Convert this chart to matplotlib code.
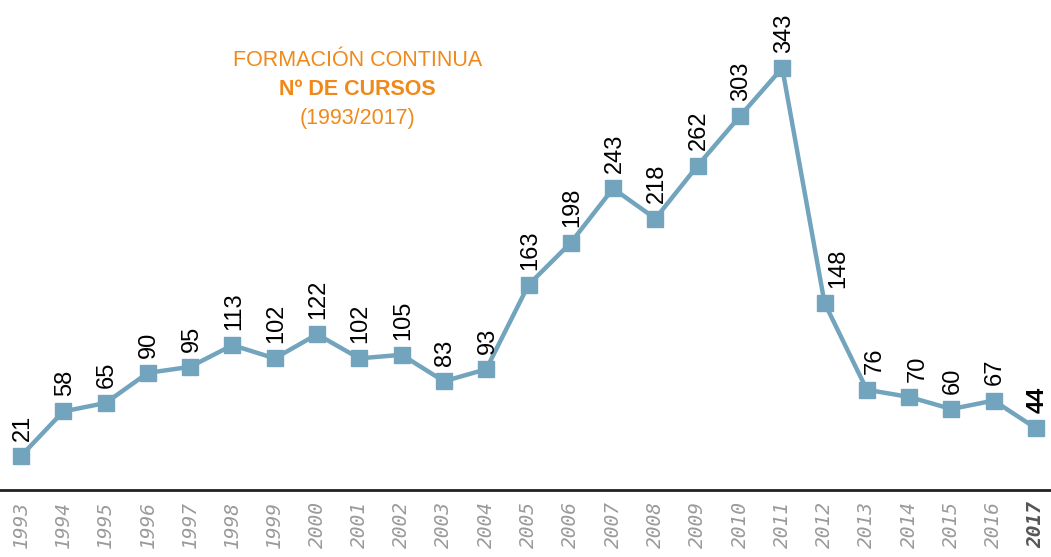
import numpy as np
import matplotlib.pyplot as plt

years = list(range(1993, 2018))
cursos = [21, 58, 65, 90, 95, 113, 102, 122, 102, 105, 83, 93, 163,
          198, 243, 218, 262, 303, 343, 148, 76, 70, 60, 67, 44]

line_color = "#72a4bd"
orange = "#f0891a"

# labels nudged right where the line would cross them
label_dx = {2012: 10, 2013: 6, 2014: 6}

fig = plt.figure(figsize=(10.51, 5.57), dpi=100)
ax = fig.add_axes([0, 0.1203, 1, 0.8797])

ax.plot(years, cursos, color=line_color, lw=3.2, marker="s", ms=11,
        markerfacecolor=line_color, markeredgecolor=line_color, zorder=3)

for i, (yr, v) in enumerate(zip(years, cursos)):
    last = i == len(years) - 1
    ax.annotate(str(v), (yr, v), xytext=(label_dx.get(yr, 1), 11),
                textcoords="offset points",
                rotation=90, ha="center", va="bottom", fontsize=17,
                family="Liberation Sans", color="black",
                fontweight="bold" if last else "normal")

ax.set_xlim(1992.503, 2017.355)
ax.set_ylim(-7.2, 399.4)

for s in ["top", "left", "right"]:
    ax.spines[s].set_visible(False)
ax.spines["bottom"].set_color("#222222")
ax.spines["bottom"].set_linewidth(2)

ax.set_yticks([])
ax.set_xticks(years)
ax.set_xticklabels([str(y) for y in years], rotation=90, fontsize=14,
                   family="DejaVu Sans Mono", style="italic", color="#9a9a9a")
ax.tick_params(axis="x", length=0, pad=8)
lbl = ax.get_xticklabels()[-1]
lbl.set_fontweight("bold")
lbl.set_color("#555555")

fig.text(0.34, 0.892, "FORMACIÓN CONTINUA", color=orange, fontsize=15.5,
         ha="center", va="center", family="Liberation Sans")
fig.text(0.34, 0.840, "Nº DE CURSOS", color=orange, fontsize=15.5,
         ha="center", va="center", family="Liberation Sans", fontweight="bold")
fig.text(0.34, 0.788, "(1993/2017)", color=orange, fontsize=15.5,
         ha="center", va="center", family="Liberation Sans")

fig.savefig("out.png", dpi=100)
